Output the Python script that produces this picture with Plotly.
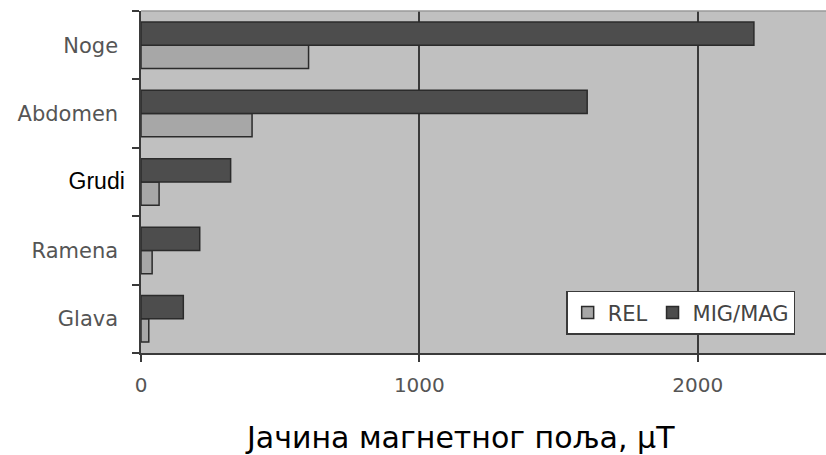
import plotly.graph_objects as go

# Body regions (bottom to top) and field strength in microtesla
regions = ["Glava", "Ramena", "Grudi", "Abdomen", "Noge"]
rel_values = [28, 40, 65, 399, 602]
mig_mag_values = [152, 211, 322, 1603, 2202]
x_ticks = [0, 1000, 2000]

W, H = 826, 455
L, R, T, B = 141, 0, 11, 102

label_font = "DejaVu Sans, Verdana, sans-serif"

def region_label(name):
    if name == "Grudi":
        return ('<span style="font-family:Liberation Sans, Arial;'
                'color:#000000;font-size:23px">Grudi</span>')
    return name + "\u00a0"

fig = go.Figure()
fig.add_trace(go.Bar(
    y=regions, x=rel_values, orientation="h", name="REL",
    marker=dict(color="#a7a7a7", line=dict(color="#2b2b2b", width=1.5)),
))
fig.add_trace(go.Bar(
    y=regions, x=mig_mag_values, orientation="h", name="MIG/MAG",
    marker=dict(color="#4d4d4d", line=dict(color="#2b2b2b", width=1.5)),
))

fig.update_layout(
    width=W, height=H,
    margin=dict(l=L, r=R, t=T, b=B, pad=0),
    paper_bgcolor="white",
    plot_bgcolor="#c0c0c0",
    barmode="group",
    bargap=0.32,
    bargroupgap=0.0,
    showlegend=True,
    legend=dict(
        orientation="h",
        x=0.955, xanchor="right",
        y=0.053, yanchor="bottom",
        bgcolor="white",
        bordercolor="#3a3a3a", borderwidth=1.5,
        font=dict(family=label_font, size=21, color="#444444"),
        itemwidth=30,
        traceorder="normal",
    ),
    xaxis=dict(
        range=[0, 2461],
        tickvals=x_ticks,
        ticktext=[str(v) for v in x_ticks],
        showgrid=True, gridcolor="#3a3a3a", gridwidth=2,
        zeroline=False,
        showline=True, linecolor="#3a3a3a", linewidth=2,
        ticks="outside", ticklen=7, tickwidth=2, tickcolor="#3a3a3a",
        tickfont=dict(family=label_font, size=20, color="#555555"),
        ticklabelstandoff=6,
        fixedrange=True,
    ),
    yaxis=dict(
        categoryorder="array", categoryarray=regions,
        tickvals=regions,
        ticktext=[region_label(r) for r in regions],
        tickson="boundaries",
        showgrid=False, zeroline=False,
        showline=True, linecolor="#3a3a3a", linewidth=2,
        ticks="outside", ticklen=7, tickwidth=2, tickcolor="#3a3a3a",
        tickfont=dict(family=label_font, size=21, color="#555555"),
        ticklabelstandoff=10,
        fixedrange=True,
    ),
    shapes=[dict(
        type="line", xref="paper", yref="paper",
        x0=0, x1=1, y0=1, y1=1,
        line=dict(color="#9a9a9a", width=1.5),
    )],
    annotations=[dict(
        text="Јачина магнетног поља, μT",
        xref="paper", yref="paper",
        x=0.466, y=-0.2485, xanchor="center", yanchor="middle",
        showarrow=False,
        font=dict(family=label_font, size=30, color="#000000"),
    )],
)

fig.write_html("out.html")
